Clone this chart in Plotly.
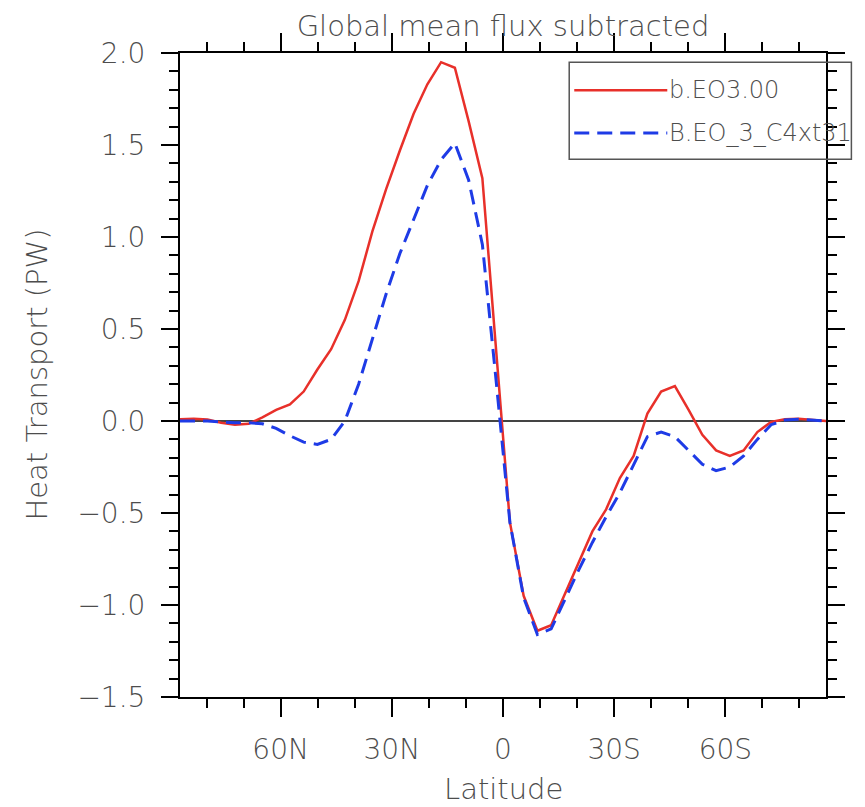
import plotly.graph_objects as go

# T31 Gaussian latitudes (N positive, S negative)
lats = [87.16, 83.46, 79.75, 76.05, 72.34, 68.63, 64.92, 61.21, 57.50, 53.79,
        50.09, 46.38, 42.67, 38.96, 35.25, 31.54, 27.83, 24.12, 20.41, 16.70,
        12.99, 9.28, 5.57, 1.86, -1.86, -5.57, -9.28, -12.99, -16.70, -20.41,
        -24.12, -27.83, -31.54, -35.25, -38.96, -42.67, -46.38, -50.09, -53.79, -57.50,
        -61.21, -64.92, -68.63, -72.34, -76.05, -79.75, -83.46, -87.16]

# Heat transport (PW)
ht_eo3 = [0.01, 0.012, 0.008, -0.01, -0.02, -0.015, 0.02, 0.06, 0.09, 0.16,
          0.28, 0.39, 0.55, 0.76, 1.03, 1.26, 1.47, 1.67, 1.83, 1.95,
          1.92, 1.63, 1.32, 0.39, -0.55, -0.95, -1.14, -1.11, -0.94, -0.76,
          -0.60, -0.48, -0.31, -0.19, 0.04, 0.16, 0.19, 0.06, -0.075, -0.16,
          -0.19, -0.16, -0.06, -0.005, 0.01, 0.012, 0.005, 0.0]

ht_c4xt31 = [0.0, 0.0, 0.0, -0.005, -0.01, -0.01, -0.015, -0.04, -0.08, -0.115,
             -0.127, -0.10, 0.0, 0.20, 0.45, 0.69, 0.91, 1.09, 1.28, 1.42,
             1.51, 1.31, 0.96, 0.22, -0.55, -0.96, -1.16, -1.13, -0.97, -0.81,
             -0.66, -0.52, -0.39, -0.24, -0.085, -0.06, -0.085, -0.16, -0.235, -0.27,
             -0.25, -0.19, -0.10, -0.02, 0.005, 0.01, 0.005, 0.0]

series_names = ["b.EO3.00", "B.EO_3_C4xt31"]
series_colors = ["#e8302a", "#1e3be6"]

x_tickvals = [60, 30, 0, -30, -60]
x_ticktext = ["60N", "30N", "0", "30S", "60S"]

title_text = "Global mean flux subtracted"
x_title = "Latitude"
y_title = "Heat Transport (PW)"

FONT = "DejaVu Sans"
TXT = "#4d4d4d"
W, H = 857, 799  # page body adds an 8px offset

fig = go.Figure()
fig.add_trace(go.Scatter(x=lats, y=ht_eo3, mode="lines", name=series_names[0],
                         line=dict(color=series_colors[0], width=2.5), showlegend=False))
fig.add_trace(go.Scatter(x=lats, y=ht_c4xt31, mode="lines", name=series_names[1],
                         line=dict(color=series_colors[1], width=3, dash="15px,8px"),
                         showlegend=False))

axis_common = dict(
    showline=True, linecolor="black", linewidth=2, mirror="ticks",
    ticks="outside", tickcolor="black", tickwidth=2,
    showgrid=False,
    tickfont=dict(family=FONT, size=28, color=TXT, weight=300),
)

fig.update_layout(
    width=W, height=H,
    margin=dict(l=172, r=39, t=45, b=110),
    paper_bgcolor="white", plot_bgcolor="white",
    title=dict(text=title_text, x=0.5, xref="paper", y=1 - 18 / H, yref="container",
               xanchor="center", yanchor="middle",
               font=dict(family=FONT, size=29, color=TXT, weight=300)),
    showlegend=False,
)

fig.update_xaxes(
    range=[lats[0], lats[-1]],
    tickvals=x_tickvals, ticktext=x_ticktext, ticklen=18, ticklabelstandoff=8,
    minor=dict(dtick=10, tick0=0, ticklen=9, tickcolor="black", tickwidth=2, ticks="outside"),
    zeroline=False,
    **axis_common,
)
fig.update_yaxes(
    range=[-1.5, 2.0], dtick=0.5, tick0=0, tickformat=".1f", ticklen=17, ticklabelstandoff=10,
    minor=dict(dtick=0.1, tick0=0, ticklen=9, tickcolor="black", tickwidth=2, ticks="outside"),
    zeroline=True, zerolinecolor="#444444", zerolinewidth=1.5,
    **axis_common,
)

# axis titles
fig.add_annotation(text=x_title, x=0.5, y=-0.143, xref="paper", yref="paper",
                   showarrow=False, xanchor="center", yanchor="middle",
                   font=dict(family=FONT, size=29, color=TXT, weight=300))
fig.add_annotation(text=y_title, x=-0.222, y=0.5, xref="paper", yref="paper",
                   showarrow=False, textangle=-90, xanchor="center", yanchor="middle",
                   font=dict(family=FONT, size=29, color=TXT, weight=300))

# legend drawn as a box with sample lines
fig.add_shape(type="rect", xref="paper", yref="paper", x0=0.6025, x1=1.0393,
              y0=0.835, y1=0.9856, line=dict(color="#555555", width=1.5),
              fillcolor="rgba(255,255,255,0)")
leg_y = [0.9421, 0.8758]
leg_dash = ["solid", "15px,8px"]
leg_w = [2.5, 3]
for name, col, yy, dsh, w in zip(series_names, series_colors, leg_y, leg_dash, leg_w):
    fig.add_shape(type="line", xref="paper", yref="paper", x0=0.6103, x1=0.7543,
                  y0=yy, y1=yy, line=dict(color=col, width=w, dash=dsh))
    fig.add_annotation(text=name, x=0.7543, y=yy, xref="paper", yref="paper",
                       showarrow=False, xanchor="left", yanchor="middle",
                       font=dict(family=FONT, size=24, color=TXT, weight=300))

fig.write_html("out.html")
